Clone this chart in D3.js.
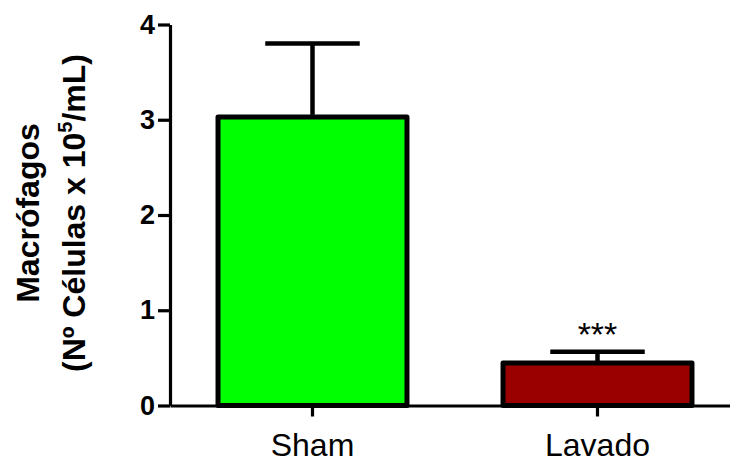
<!DOCTYPE html>
<html>
<head>
<meta charset="utf-8">
<script src="https://cdn.jsdelivr.net/npm/d3@7"></script>
<style>
  body { margin: 0; background: #fff; }
  svg { display: block; font-family: Arial, "Liberation Sans", sans-serif; }
</style>
</head>
<body>
<svg id="chart" width="730" height="463"></svg>
<script>
const groups = ['Sham', 'Lavado'];
const means = [3.03, 0.445];
const sems = [0.77, 0.12];
const colors = ['#00ff00', '#9b0000'];
const yTicks = [0, 1, 2, 3, 4];
const marks = ['', '***'];

const svg = d3.select('#chart');

const x = d3.scaleBand()
  .domain(groups)
  .range([170, 740])
  .paddingInner(0.337)
  .paddingOuter(0.1685);

const y = d3.scaleLinear()
  .domain([0, 4])
  .range([405.5, 24.5]);

// bars
svg.selectAll('rect.bar')
  .data(groups)
  .enter()
  .append('rect')
  .attr('class', 'bar')
  .attr('x', g => x(g))
  .attr('width', x.bandwidth())
  .attr('y', (g, i) => y(means[i]))
  .attr('height', (g, i) => y(0) - y(means[i]))
  .attr('fill', (g, i) => colors[i])
  .attr('stroke', '#000')
  .attr('stroke-width', 5)
  .attr('stroke-linejoin', 'round');

// error bars (upper only)
const cx = g => x(g) + x.bandwidth() / 2;
const capW = x.bandwidth() / 4;

svg.selectAll('line.stem')
  .data(groups)
  .enter()
  .append('line')
  .attr('stroke', '#000')
  .attr('stroke-width', 4.5)
  .attr('x1', cx)
  .attr('x2', cx)
  .attr('y1', (g, i) => y(means[i]) - 2)
  .attr('y2', (g, i) => y(means[i] + sems[i]));

svg.selectAll('line.cap')
  .data(groups)
  .enter()
  .append('line')
  .attr('stroke', '#000')
  .attr('stroke-width', 4.5)
  .attr('x1', g => cx(g) - capW)
  .attr('x2', g => cx(g) + capW)
  .attr('y1', (g, i) => y(means[i] + sems[i]))
  .attr('y2', (g, i) => y(means[i] + sems[i]));

// significance
svg.selectAll('text.sig')
  .data(groups)
  .enter()
  .append('text')
  .text((g, i) => marks[i])
  .attr('x', cx)
  .attr('y', 346)
  .attr('text-anchor', 'middle')
  .attr('font-size', 34);

// y axis
const yAxis = svg.append('g')
  .attr('transform', 'translate(170,0)')
  .call(d3.axisLeft(y).tickValues(yTicks).tickFormat(d3.format('d')).tickSize(12).tickSizeOuter(0).tickPadding(3));
yAxis.select('.domain').attr('stroke-width', 3.2);
yAxis.selectAll('.tick line').attr('stroke-width', 3.2);
yAxis.selectAll('.tick text')
  .attr('font-size', 27)
  .attr('font-weight', 'bold')
  .attr('font-family', 'Arial, "Liberation Sans", sans-serif')
  .attr('fill', '#000');

// x axis
const xAxis = svg.append('g')
  .attr('transform', `translate(0,${y(0)})`)
  .call(d3.axisBottom(x).tickSize(11).tickSizeOuter(0));
xAxis.select('.domain').attr('stroke-width', 3.2);
xAxis.selectAll('.tick line').attr('stroke-width', 3.2);
xAxis.selectAll('.tick text')
  .attr('y', 50)
  .attr('dy', null)
  .attr('font-size', 32)
  .attr('font-family', 'Arial, "Liberation Sans", sans-serif')
  .attr('fill', '#000');

// y title
const title = svg.append('text')
  .attr('transform', 'translate(39,213) rotate(-90)')
  .attr('text-anchor', 'middle')
  .attr('font-size', 32)
  .attr('font-weight', 'bold');
title.append('tspan')
  .attr('x', 0)
  .attr('dy', 0)
  .text('Macrófagos');
const l2 = title.append('tspan')
  .attr('x', 0)
  .attr('dy', 46);
l2.append('tspan').text('(Nº Células x 10');
l2.append('tspan').attr('dy', -13).attr('font-size', 20).text('5');
l2.append('tspan').attr('dy', 13).text('/mL)');
</script>
</body>
</html>
